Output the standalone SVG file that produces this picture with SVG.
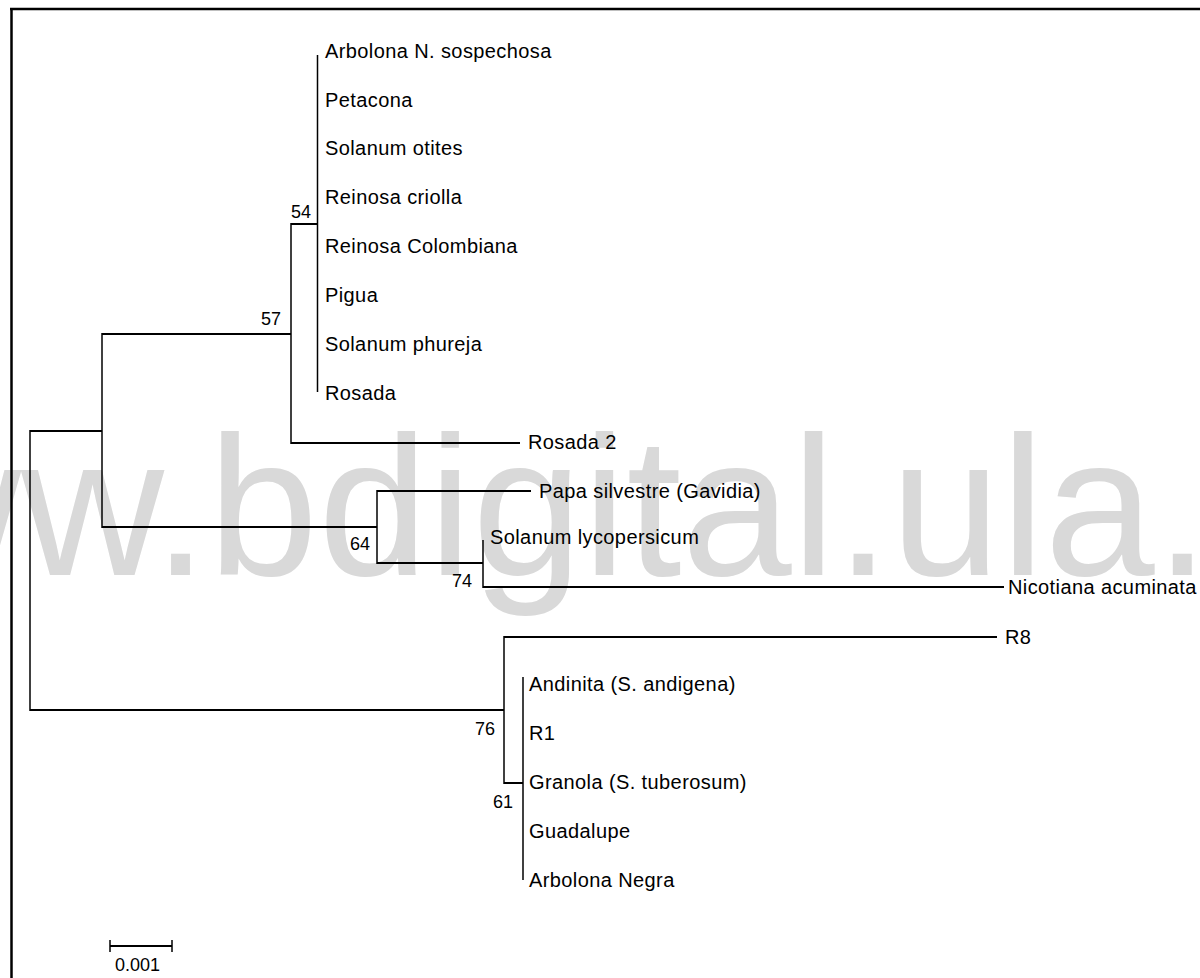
<svg xmlns="http://www.w3.org/2000/svg" width="1200" height="978" viewBox="0 0 1200 978">
<style>
.wm{font-family:"Liberation Sans",Arial,sans-serif;font-size:198px;fill:#d9d9d9}
.tx{font-family:"Liberation Sans",Arial,sans-serif;font-size:20px;letter-spacing:0.4px;fill:#000}
.bs{font-family:"Liberation Sans",Arial,sans-serif;font-size:18px;fill:#000;text-anchor:end}
.h{stroke:#000;stroke-width:2;fill:none}
.v{stroke:#000;stroke-width:1.5;fill:none}
.f{stroke:#000;stroke-width:2.5;fill:none}
</style>
<rect width="1200" height="978" fill="#fff"/>
<text class="wm" x="-265" y="575">www.bdigital.ula.ve</text>
<g id="frame">
<line class="f" x1="10" y1="9" x2="1200" y2="9"/>
<line class="f" x1="11.5" y1="8" x2="11.5" y2="978"/>
</g>
<g id="connectors">
<!-- root -->
<line class="v" x1="30" y1="430" x2="30" y2="711"/>
<line class="h" x1="30" y1="431" x2="102" y2="431"/>
<line class="h" x1="30" y1="710" x2="504" y2="710"/>
<!-- node A -->
<line class="v" x1="102" y1="333" x2="102" y2="528"/>
<line class="h" x1="102" y1="334" x2="291" y2="334"/>
<line class="h" x1="102" y1="527" x2="377" y2="527"/>
<!-- node 57 -->
<line class="v" x1="291" y1="223" x2="291" y2="444"/>
<line class="h" x1="291" y1="224" x2="317" y2="224"/>
<line class="h" x1="291" y1="443" x2="520" y2="443"/>
<!-- node 54 -->
<line class="v" x1="317.5" y1="55" x2="317.5" y2="392"/>
<!-- node 64 -->
<line class="v" x1="377" y1="490" x2="377" y2="564"/>
<line class="h" x1="377" y1="491" x2="531" y2="491"/>
<line class="h" x1="377" y1="563" x2="483" y2="563"/>
<!-- node 74 -->
<line class="v" x1="483" y1="540" x2="483" y2="588"/>
<line class="h" x1="483" y1="587" x2="1004" y2="587"/>
<!-- node 76 -->
<line class="v" x1="504" y1="636" x2="504" y2="784"/>
<line class="h" x1="504" y1="637" x2="997" y2="637"/>
<line class="h" x1="504" y1="783" x2="523" y2="783"/>
<!-- node 61 -->
<line class="v" x1="523" y1="677" x2="523" y2="880"/>
</g>
<g id="leaf-arbolona-n"><text class="tx" x="325" y="58">Arbolona N. sospechosa</text></g>
<g id="leaf-petacona"><text class="tx" x="325" y="107">Petacona</text></g>
<g id="leaf-solanum-otites"><text class="tx" x="325" y="155">Solanum otites</text></g>
<g id="leaf-reinosa-criolla"><text class="tx" x="325" y="204">Reinosa criolla</text></g>
<g id="leaf-reinosa-colombiana"><text class="tx" x="325" y="253">Reinosa Colombiana</text></g>
<g id="leaf-pigua"><text class="tx" x="325" y="302">Pigua</text></g>
<g id="leaf-solanum-phureja"><text class="tx" x="325" y="351">Solanum phureja</text></g>
<g id="leaf-rosada"><text class="tx" x="325" y="400">Rosada</text></g>
<g id="leaf-rosada2"><text class="tx" x="528" y="449">Rosada 2</text></g>
<g id="leaf-papa-silvestre"><text class="tx" x="539" y="498">Papa silvestre (Gavidia)</text></g>
<g id="leaf-solanum-lycopersicum"><text class="tx" x="490" y="544">Solanum lycopersicum</text></g>
<g id="leaf-nicotiana"><text class="tx" x="1008" y="594">Nicotiana acuminata</text></g>
<g id="leaf-r8"><text class="tx" x="1005" y="644">R8</text></g>
<g id="leaf-andinita"><text class="tx" x="529" y="691">Andinita (S. andigena)</text></g>
<g id="leaf-r1"><text class="tx" x="529" y="740">R1</text></g>
<g id="leaf-granola"><text class="tx" x="529" y="789">Granola (S. tuberosum)</text></g>
<g id="leaf-guadalupe"><text class="tx" x="529" y="838">Guadalupe</text></g>
<g id="leaf-arbolona-negra"><text class="tx" x="529" y="887">Arbolona Negra</text></g>
<g id="bs-54"><text class="bs" x="311" y="218">54</text></g>
<g id="bs-57"><text class="bs" x="281" y="325">57</text></g>
<g id="bs-64"><text class="bs" x="370" y="550">64</text></g>
<g id="bs-74"><text class="bs" x="472" y="587">74</text></g>
<g id="bs-76"><text class="bs" x="495" y="735">76</text></g>
<g id="bs-61"><text class="bs" x="513" y="808">61</text></g>
<g id="scale-bar">
<line class="h" x1="110" y1="946" x2="172" y2="946"/>
<line class="v" x1="110" y1="940" x2="110" y2="952"/>
<line class="v" x1="172" y1="940" x2="172" y2="952"/>
<text class="bs" x="160" y="971">0.001</text>
</g>
</svg>
